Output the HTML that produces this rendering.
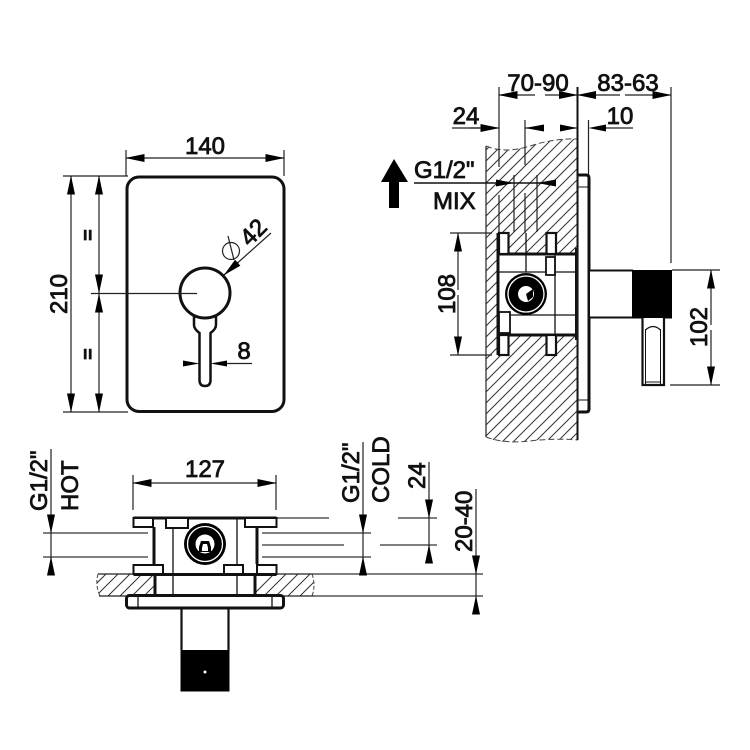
<!DOCTYPE html>
<html><head><meta charset="utf-8"><style>
html,body{margin:0;padding:0;background:#fff}
svg{display:block}
text{font-family:"Liberation Sans",sans-serif;font-size:24px;fill:#111;stroke:#111;stroke-width:.8}
.d{stroke:#222;stroke-width:1.2;fill:none}
.g{stroke:#555;stroke-width:1.4;fill:none}
.t{stroke:#111;stroke-width:3;fill:none}
.m{stroke:#111;stroke-width:1.5;fill:none}
.w{stroke:#111;stroke-width:3;fill:#fff}
.a{stroke:#222;stroke-width:1.2;fill:none;marker-end:url(#a)}
.h{stroke:#333;stroke-width:1;fill:none}
</style></head><body>
<svg width="750" height="750" viewBox="0 0 750 750" xmlns="http://www.w3.org/2000/svg">
<defs>
<marker id="a" markerUnits="userSpaceOnUse" markerWidth="19" markerHeight="8" refX="18.500" refY="4" orient="auto"><path d="M0 0L19 4L0 8z" fill="#000"/></marker>
<clipPath id="c1"><path d="M486 146Q505 154 530 146T578 139V440Q560 437 530 441T486 437z"/></clipPath>
<clipPath id="c2"><path d="M99 574H312Q316 585 312 596H100Q95 585 98 574z"/></clipPath>
</defs>
<rect width="750" height="750" fill="#fff"/>

<!-- FRONT VIEW -->
<rect x="127" y="177" width="157" height="234.500" rx="12" class="t"/>
<path class="w" d="M194 316V325Q194 329 199.500 333V380Q199.500 386 205 386Q210.500 386 210.500 380V333Q216 329 216 325V316" style="stroke-width:2.500"/>
<circle cx="205" cy="293" r="25" class="w"/>
<path class="d" d="M126 150V176M284 150V176M63 176H128M63 412H128M91 293.500H197"/>
<path class="a" d="M205 158H126"/><path class="a" d="M205 158H284"/>
<path class="a" d="M71 290V176"/><path class="a" d="M71 290V412"/>
<path class="a" d="M99 235V176"/><path class="a" d="M99 235V293"/>
<path class="a" d="M99 352V294"/><path class="a" d="M99 352V412"/>
<text x="205" y="154" text-anchor="middle">140</text>
<text transform="translate(67 294) rotate(-90)" text-anchor="middle">210</text>
<text transform="translate(81 235) rotate(90)" text-anchor="middle" style="font-size:19px;stroke-width:1.400">=</text>
<text transform="translate(81 354) rotate(90)" text-anchor="middle" style="font-size:19px;stroke-width:1.400">=</text>
<path class="a" d="M271 233L224 275"/>
<circle cx="231" cy="251" r="8.500" class="d"/><path class="d" d="M228 236L234 260"/>
<text transform="translate(259 238) rotate(-45)" text-anchor="middle">42</text>
<path d="M183 360.500L199.500 363.500L183 366.500z" fill="#000"/>
<path d="M227 360.500L210.500 363.500L227 366.500z" fill="#000"/>
<path class="d" d="M227 363.500H252"/>
<text x="244" y="359" text-anchor="middle">8</text>

<!-- SIDE VIEW -->
<g clip-path="url(#c1)"><path class="h" d="M486 139l92-92M486 150l92-92M486 161l92-92M486 172l92-92M486 183l92-92M486 194l92-92M486 205l92-92M486 216l92-92M486 227l92-92M486 238l92-92M486 249l92-92M486 260l92-92M486 271l92-92M486 282l92-92M486 293l92-92M486 304l92-92M486 315l92-92M486 326l92-92M486 337l92-92M486 348l92-92M486 359l92-92M486 370l92-92M486 381l92-92M486 392l92-92M486 403l92-92M486 414l92-92M486 425l92-92M486 436l92-92M486 447l92-92M486 458l92-92M486 469l92-92M486 480l92-92M486 491l92-92M486 502l92-92M486 513l92-92M486 524l92-92M486 535l92-92"/></g>
<path class="d" d="M486 146V437"/>
<path d="M486 146Q505 154 530 146T578 139" fill="none" stroke="#444" stroke-dasharray="6 3"/>
<path d="M486 437Q505 444 530 441T578 440" fill="none" stroke="#444" stroke-dasharray="6 3"/>
<path class="m" d="M577.500 87V440" style="stroke-width:2"/>
<path class="d" d="M499 87V167M499 195V233M525 120V165M525 193V233M514 175V232M537 175V232M588.500 120V175M671 87V263"/>
<path class="d" d="M452 128H482M543 128H525M560 128H577M633 128H600M450 233H492M450 355H492M672 270H720M670 385H720"/>
<path class="a" d="M535 95H499"/><path class="a" d="M545 95H577.500"/>
<path class="a" d="M620 95H577.500"/><path class="a" d="M625 95H671"/>
<path class="a" d="M470 128H499"/>
<path d="M544 124.500L525 128L544 131.500z" fill="#000"/>
<path d="M560 124.500L577 128L560 131.500z" fill="#000"/>
<path d="M606 124.500L588.500 128L606 131.500z" fill="#000"/>
<path d="M414 183H556" fill="none" stroke="#111" stroke-width="1.500"/>
<path d="M496 179.500L514 183L496 186.500z" fill="#000"/>
<path d="M556 179.500L537 183L556 186.500z" fill="#000"/>
<text x="538" y="91" text-anchor="middle">70-90</text>
<text x="628" y="91" text-anchor="middle">83-63</text>
<text x="466" y="124" text-anchor="middle">24</text>
<text x="620" y="124" text-anchor="middle">10</text>
<text x="414" y="178">G1/2"</text>
<text x="433" y="209">MIX</text>
<path d="M394 159L408 182H399V208H389V182H381z" fill="#000"/>
<path class="a" d="M458 290V233"/><path class="a" d="M458 295V355"/>
<text transform="translate(455 294) rotate(-90)" text-anchor="middle">108</text>
<path class="a" d="M711 325V270"/><path class="a" d="M711 330V385"/>
<text transform="translate(707 327) rotate(-90)" text-anchor="middle">102</text>
<!-- side: body -->
<rect x="498" y="254" width="78" height="81" fill="#fff"/>
<path class="m" d="M498 272H576M498 315H576M555 254V335M526 233V272" style="stroke-width:1.300"/>
<path class="t" d="M498 254H576M498 335H576M498 233V355"/>
<path class="t" d="M576 248V340" style="stroke-width:2"/>
<rect x="499" y="233" width="9.500" height="21" class="w" style="stroke-width:2.200"/>
<rect x="546.500" y="233" width="9.500" height="21" class="w" style="stroke-width:2.200"/>
<rect x="499" y="335" width="9.500" height="20" class="w" style="stroke-width:2.200"/>
<rect x="546.500" y="335" width="9.500" height="20" class="w" style="stroke-width:2.200"/>
<rect x="546" y="257" width="9" height="18" class="w" style="stroke-width:1.800"/>
<rect x="499" y="312" width="11" height="21" class="w" style="stroke-width:1.800"/>
<circle cx="526" cy="294" r="21" fill="#000"/>
<circle cx="526" cy="294" r="18" fill="none" stroke="#fff" stroke-width="1.300"/>
<circle cx="526" cy="294" r="8" fill="#fff"/>
<path d="M526 294L533 289V297L528 301z" fill="#000"/>
<!-- side: plate -->
<path class="w" d="M577.500 175H586Q589 175 589 178V409Q589 412 586 412H577.500"/>
<path class="m" d="M578 187H588M578 400H588" style="stroke-width:1"/>
<path class="d" d="M578 175V412"/>
<rect x="590" y="270" width="43" height="48" fill="#fff"/>
<path class="m" d="M590 270.500H633M590 317.500H633" style="stroke-width:2"/>
<rect x="632" y="270" width="40" height="48.500" fill="#000"/>
<path class="t" d="M642.500 318V385H664V318" style="stroke-width:2.200;fill:#fff"/>
<path class="m" d="M645.500 329V384M660.500 329V384M646 382H660" style="stroke-width:1"/>
<path class="m" d="M645.500 330Q653 323 660.500 330" style="stroke-width:1.200"/>

<!-- BOTTOM VIEW -->
<g clip-path="url(#c2)"><path class="h" d="M84 596l22-22M96 596l22-22M108 596l22-22M120 596l22-22M132 596l22-22M144 596l22-22M252 596l22-22M264 596l22-22M276 596l22-22M288 596l22-22M300 596l22-22"/></g>
<path class="d" d="M98 574H155M255 574H314M99 596H127M283 596H314"/>
<path d="M98 574Q95 585 100 596M312 574Q316 585 312 596" fill="none" stroke="#444" stroke-dasharray="4 2"/>
<path class="g" d="M43 533H148M43 557H148"/>
<path class="g" d="M262 518H329M398 518H437M262 533H371M262 545H344M380 545H437M262 557H371M314 574H483M314 596H483"/>
<path class="d" d="M133 475V510M276 475V510"/>
<path class="a" d="M205 483H133"/><path class="a" d="M205 483H276"/>
<text x="205" y="477" text-anchor="middle">127</text>
<path class="a" d="M51 449V533"/><path class="a" d="M51 574V557"/><path class="d" d="M51 533V557"/>
<path class="a" d="M363 442V533"/><path class="a" d="M363 574V557"/><path class="d" d="M363 533V557"/>
<path class="a" d="M429 462V518"/><path class="a" d="M429 563V545"/><path class="d" d="M429 518V545"/>
<path class="a" d="M476 489V574"/><path class="a" d="M476 612V596"/><path class="d" d="M476 574V596"/>
<text transform="translate(47 511) rotate(-90)">G1/2"</text>
<text transform="translate(78 511) rotate(-90)">HOT</text>
<text transform="translate(359 503) rotate(-90)">G1/2"</text>
<text transform="translate(389 503) rotate(-90)">COLD</text>
<text transform="translate(425 489) rotate(-90)">24</text>
<text transform="translate(472 552) rotate(-90)">20-40</text>
<rect x="155" y="574" width="100" height="21" fill="#fff"/>
<rect x="153" y="517" width="105" height="57" fill="#fff"/>
<path class="t" d="M133.500 518H276.500M133.500 574.500H276.500M155 574V595M255 574V595"/>
<path class="t" d="M154 527V564M257 527V564"/>
<path class="m" d="M173 518V594M237 518V594" style="stroke-width:1.300"/>
<rect x="133.500" y="518" width="19.500" height="9" class="w" style="stroke-width:2"/>
<rect x="245" y="518" width="31.500" height="9" class="w" style="stroke-width:2"/>
<rect x="166" y="518" width="22" height="10" class="w" style="stroke-width:2"/>
<rect x="133.500" y="565" width="29.500" height="9" class="w" style="stroke-width:2"/>
<rect x="257" y="565" width="19.500" height="9" class="w" style="stroke-width:2"/>
<rect x="224" y="565" width="19" height="9" class="w" style="stroke-width:2"/>
<circle cx="205" cy="544" r="21" fill="#000"/>
<circle cx="205" cy="544" r="17.500" fill="none" stroke="#fff" stroke-width="1.300"/>
<circle cx="205" cy="544" r="9.500" fill="#fff"/>
<path d="M201 541H209L211 547V552H199V547z" fill="#000"/>
<path d="M203 544H207L208 548V551H202V548z" fill="#fff"/>
<rect x="126.500" y="595.500" width="157" height="12.500" rx="3" class="w"/>
<path class="m" d="M138 596V608M272 596V608" style="stroke-width:1.300"/>
<path class="t" d="M181.500 608V650M228.500 608V650" style="stroke-width:2.200"/>
<rect x="180.500" y="650" width="49" height="41.500" fill="#000"/>
<circle cx="205" cy="672" r="1.500" fill="#fff"/>
</svg>
</body></html>
